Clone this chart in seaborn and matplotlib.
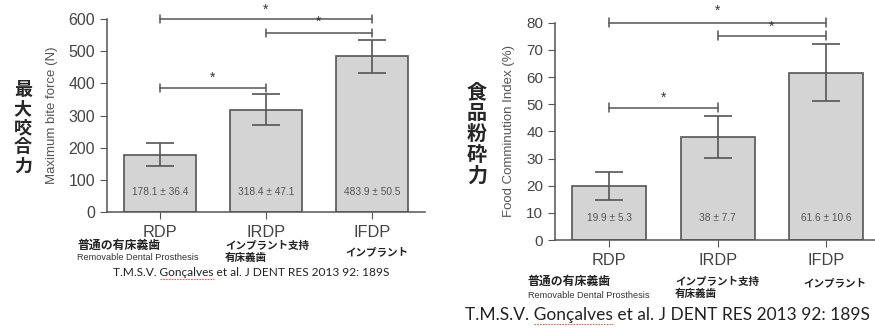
import numpy as np
import pandas as pd
import matplotlib.pyplot as plt
import seaborn as sns

groups = ['RDP', 'IRDP', 'IFDP']
bite_force = [178.1, 318.4, 483.9]
bite_sd = [36.4, 47.1, 50.5]
bite_labels = ['178.1 ± 36.4', '318.4 ± 47.1', '483.9 ± 50.5']
fci = [19.9, 38.0, 61.6]
fci_sd = [5.3, 7.7, 10.6]
fci_labels = ['19.9 ± 5.3', '38 ± 7.7', '61.6 ± 10.6']
jp_groups = ['普通の有床義歯', 'インプラント支持\n有床義歯', 'インプラント']
jp_sizes = [8.6, 7.6, 7.6]
citation = 'T.M.S.V. Gonçalves et al. J DENT RES 2013 92: 189S'

sns.set_style('ticks')
plt.rcParams['font.family'] = ['Liberation Sans', 'Noto Sans CJK JP']
JP = ['Noto Sans CJK JP', 'DejaVu Sans']

GRAY = '#555555'
fig = plt.figure(figsize=(8.75, 3.29), dpi=100)


def panel(rect, vals, sds, labels, ymax, ystep, ylabel, label_y, brackets, xr, ytick_fs):
    ax = fig.add_axes(rect)
    df = pd.DataFrame({'group': groups, 'value': vals})
    sns.barplot(data=df, x='group', y='value', color='#d4d4d4', edgecolor=GRAY,
                linewidth=1.2, width=0.68, saturation=1, ax=ax)
    ax.errorbar(range(len(vals)), vals, yerr=sds, fmt='none', ecolor=GRAY,
                elinewidth=1.2, capsize=10, capthick=1.2)
    for i, t in enumerate(labels):
        ax.text(i, label_y, t, ha='center', va='center', fontsize=7.3, color=GRAY)
    ax.set_xlim(-0.5, xr)
    ax.set_ylim(0, ymax)
    ax.set_yticks(np.arange(0, ymax + 1, ystep))
    ax.set_xlabel('')
    ax.set_ylabel(ylabel, fontsize=9.5, color=GRAY)
    sns.despine(ax=ax)
    for s in ['left', 'bottom']:
        ax.spines[s].set_color(GRAY)
        ax.spines[s].set_linewidth(1.1)
    ax.tick_params(axis='y', labelsize=ytick_fs, colors=GRAY, labelcolor='#444444', length=5)
    ax.tick_params(axis='x', labelsize=11.8, colors=GRAY, labelcolor='#444444', length=5, pad=4)
    h = ymax * 0.02
    for x0, x1, y, xs, ys in brackets:
        ax.plot([x0, x1], [y, y], color=GRAY, lw=1.1, clip_on=False)
        for xe in (x0, x1):
            ax.plot([xe, xe], [y - h, y + h], color=GRAY, lw=1.1, clip_on=False)
        ax.text(xs, ys, '*', ha='center', va='center', fontsize=10, color='#333333')
    return ax


# left: maximum bite force
axl = panel([0.1223, 0.3556, 0.3634, 0.5866], bite_force, bite_sd, bite_labels,
            600, 100, 'Maximum bite force (N)', 62,
            [(0, 2, 600, 1.0, 630), (1, 2, 556, 1.5, 590), (0, 1, 385, 0.5, 418)], 2.5, 11.5)
axl.yaxis.set_label_coords(-0.154, 0.5)

# right: food comminution index
axr = panel([0.6343, 0.2705, 0.3657, 0.6605], fci, fci_sd, fci_labels,
            80, 10, 'Food Comminution Index (%)', 8.1,
            [(0, 2, 80, 1.0, 84.5), (1, 2, 75.2, 1.5, 78.5), (0, 1, 48.7, 0.5, 52.3)], 2.45, 11)
axr.yaxis.set_label_coords(-0.125, 0.5)

fig.text(0.026, 0.611, '\n'.join('最大咬合力'), family=JP, fontsize=13, fontweight='bold',
         ha='center', va='center', linespacing=1.0)
fig.text(0.545, 0.594, '\n'.join('食品粉砕力'), family=JP, fontsize=14.5, fontweight='bold',
         ha='center', va='center', linespacing=1.0)

# japanese group names under the axes
for xs, ys in [([77, 225, 345], [245, 252, 252]), ([528, 675, 803], [281, 288, 283])]:
    for i, t in enumerate(jp_groups):
        fig.text(xs[i] / 875, 1 - ys[i] / 329, t, family=JP, fontsize=jp_sizes[i],
                 fontweight='bold', color='#222222', ha='left', va='center', linespacing=1.1)
fig.text(77 / 875, 1 - 258 / 329, 'Removable Dental Prosthesis', fontsize=6.6, color='#333333',
         ha='left', va='center')
fig.text(528 / 875, 1 - 296 / 329, 'Removable Dental Prosthesis', fontsize=6.6, color='#333333',
         ha='left', va='center')

# citation with red spell-check underline under the author name
fig.canvas.draw()
renderer = fig.canvas.get_renderer()
for x, y, fs in [(113, 273, 8.6), (465, 315, 12.5)]:
    t = fig.text(x / 875, 1 - y / 329, citation, family=['Lato', 'DejaVu Sans'], fontsize=fs,
                 color='#222222', ha='left', va='center')
    pre = fig.text(x / 875, 1 - y / 329, 'T.M.S.V. ', family=['Lato', 'DejaVu Sans'],
                   fontsize=fs, alpha=0)
    name = fig.text(x / 875, 1 - y / 329, 'T.M.S.V. Gonçalves', family=['Lato', 'DejaVu Sans'],
                    fontsize=fs, alpha=0)
    x0 = pre.get_window_extent(renderer).x1 / 875
    x1 = name.get_window_extent(renderer).x1 / 875
    yb = 1 - (y + fs * 0.75) / 329
    fig.lines.append(plt.Line2D([x0, x1], [yb, yb], transform=fig.transFigure,
                                color='#e06060', lw=0.8, ls=(0, (1.5, 1))))

fig.savefig('out.png', dpi=100)
